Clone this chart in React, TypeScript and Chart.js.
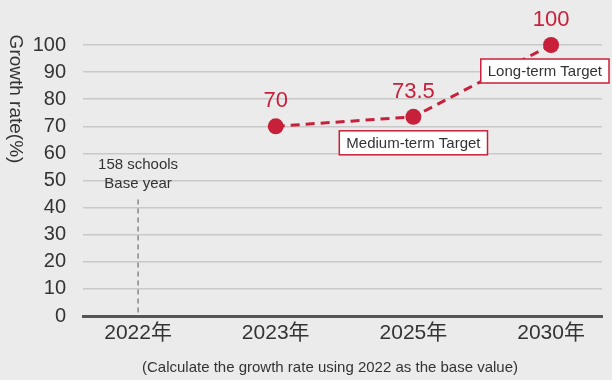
import React, { useEffect, useRef } from 'react';
import { Chart, registerables } from 'chart.js';

Chart.register(...registerables);

const categories = ['2022年', '2023年', '2025年', '2030年'];
const growthValues: (number | null)[] = [null, 70, 73.5, 100];
const valueLabels = ['', '70', '73.5', '100'];
const targetLabels = ['', '', 'Medium-term Target', 'Long-term Target'];
const yTickValues = [0, 10, 20, 30, 40, 50, 60, 70, 80, 90, 100];
const baseYearLines = ['158 schools', 'Base year'];
const baseMarkerTop = 43;
const yTitle = 'Growth rate(%)';
const footnote = '(Calculate the growth rate using 2022 as the base value)';

const FONT = "'Liberation Sans', Arial, 'Noto Sans CJK JP', sans-serif";
const RED = '#c8203a';
const TEXT = '#333333';
const BG = '#ebebeb';

export default function App() {
  const ref = useRef<HTMLCanvasElement | null>(null);

  useEffect(() => {
    document.body.style.margin = '0';
    document.body.style.background = BG;
    const canvas = ref.current;
    if (!canvas) return;

    const overlay = {
      id: 'overlay',
      beforeDraw(chart: any) {
        const { ctx } = chart;
        ctx.save();
        ctx.fillStyle = BG;
        ctx.fillRect(0, 0, chart.width, chart.height);
        ctx.restore();
      },
      beforeDatasetsDraw(chart: any) {
        const { ctx, scales } = chart;
        const xs = scales.x;
        const ys = scales.y;
        const x0 = xs.getPixelForValue(0);
        ctx.save();
        ctx.strokeStyle = '#555555';
        ctx.lineWidth = 1;
        ctx.setLineDash([5, 4]);
        ctx.beginPath();
        ctx.moveTo(x0, ys.getPixelForValue(baseMarkerTop));
        ctx.lineTo(x0, ys.getPixelForValue(0));
        ctx.stroke();
        ctx.setLineDash([]);
        ctx.fillStyle = TEXT;
        ctx.font = `15px ${FONT}`;
        ctx.textAlign = 'center';
        ctx.textBaseline = 'middle';
        ctx.fillText(baseYearLines[0], x0, 165);
        ctx.fillText(baseYearLines[1], x0, 184);
        ctx.restore();
      },
      afterDatasetsDraw(chart: any) {
        const { ctx, scales } = chart;
        const xs = scales.x;
        const ys = scales.y;
        ctx.save();
        growthValues.forEach((v, i) => {
          if (v == null) return;
          const px = xs.getPixelForValue(i);
          const py = ys.getPixelForValue(v);
          if (valueLabels[i]) {
            ctx.fillStyle = RED;
            ctx.font = `22px ${FONT}`;
            ctx.textAlign = 'center';
            ctx.textBaseline = 'middle';
            ctx.fillText(valueLabels[i], px, py - 25);
          }
          if (targetLabels[i]) {
            ctx.font = `15px ${FONT}`;
            const tw = ctx.measureText(targetLabels[i]).width;
            const w = tw + 14;
            const h = 24;
            let left = px - w / 2;
            if (left + w > chart.width - 3) left = chart.width - 3 - w;
            const top = py + 14;
            ctx.fillStyle = '#ffffff';
            ctx.fillRect(left, top, w, h);
            ctx.strokeStyle = RED;
            ctx.lineWidth = 1.5;
            ctx.strokeRect(left, top, w, h);
            ctx.fillStyle = TEXT;
            ctx.textAlign = 'center';
            ctx.textBaseline = 'middle';
            ctx.fillText(targetLabels[i], left + w / 2, top + h / 2 + 1);
          }
        });
        ctx.restore();
      },
      afterDraw(chart: any) {
        const { ctx } = chart;
        ctx.save();
        ctx.fillStyle = TEXT;
        ctx.font = `19px ${FONT}`;
        ctx.textAlign = 'center';
        ctx.textBaseline = 'middle';
        ctx.translate(15, 99);
        ctx.rotate(Math.PI / 2);
        ctx.fillText(yTitle, 0, 0);
        ctx.restore();
        ctx.save();
        ctx.fillStyle = TEXT;
        ctx.font = `15px ${FONT}`;
        ctx.textAlign = 'center';
        ctx.textBaseline = 'middle';
        ctx.fillText(footnote, 330, 368);
        ctx.restore();
      },
    };

    const chart = new Chart(canvas, {
      type: 'line',
      data: {
        datasets: [
          {
            data: growthValues
              .map((v, i) => ({ x: i, y: v }))
              .filter((p) => p.y != null) as any,
            borderColor: RED,
            backgroundColor: RED,
            borderWidth: 3,
            borderDash: [9, 6],
            pointRadius: 8,
            pointHoverRadius: 8,
            pointBorderWidth: 0,
            pointBackgroundColor: RED,
            tension: 0,
            clip: false as any,
          },
        ],
      },
      options: {
        responsive: false,
        animation: false,
        events: [],
        layout: { padding: { top: 45, right: 10, left: 0, bottom: 0 } },
        plugins: {
          legend: { display: false },
          tooltip: { enabled: false },
        },
        scales: {
          x: {
            type: 'linear',
            min: -0.40,
            max: 3.37,
            afterBuildTicks(scale: any) {
              scale.ticks = categories.map((_, i) => ({ value: i }));
            },
            afterFit(scale: any) {
              scale.height = 64;
            },
            grid: { display: false, drawTicks: false },
            border: { display: true, color: '#555555', width: 3 },
            ticks: {
              padding: 5,
              color: TEXT,
              font: { family: FONT, size: 21 },
              callback: (v: any) => categories[v as number] ?? '',
              autoSkip: false,
              maxRotation: 0,
            },
          },
          y: {
            min: 0,
            max: 100,
            afterBuildTicks(scale: any) {
              scale.ticks = yTickValues.map((v) => ({ value: v }));
            },
            afterFit(scale: any) {
              scale.width = 83;
            },
            grid: {
              drawTicks: false,
              color: (c: any) => (c.tick && c.tick.value === 0 ? 'rgba(0,0,0,0)' : '#c9c9c9'),
              lineWidth: 1.5,
            },
            border: { display: false },
            ticks: {
              padding: 17,
              autoSkip: false,
              color: TEXT,
              font: { family: FONT, size: 20 },
            },
          },
        },
      },
      plugins: [overlay],
    });

    return () => chart.destroy();
  }, []);

  return <canvas ref={ref} width={612} height={380} style={{ display: 'block' }} />;
}
